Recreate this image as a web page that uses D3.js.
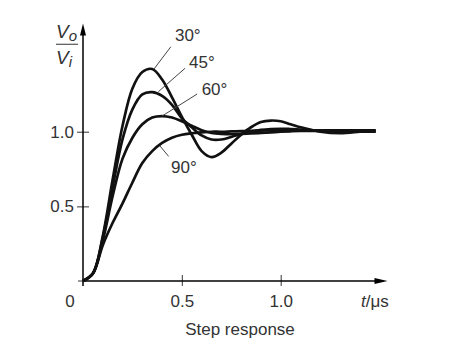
<!DOCTYPE html>
<html>
<head>
<meta charset="utf-8">
<script src="https://cdn.jsdelivr.net/npm/d3@7"></script>
<style>
  body { margin: 0; background: #fff; }
  text { font-family: "Liberation Sans", Arial, Helvetica, sans-serif; fill: #333; }
</style>
</head>
<body>
<div id="chart"></div>
<script>
// time axis (microseconds)
var times = [0, 0.05, 0.1, 0.15, 0.2, 0.25, 0.3, 0.35, 0.4, 0.45, 0.5, 0.55, 0.6, 0.65, 0.7, 0.75, 0.8, 0.85, 0.9, 0.95, 1.0, 1.05, 1.1, 1.2, 1.3, 1.4, 1.48];
// Vo/Vi, one list per phase margin
var v30 = [0, 0.05, 0.30, 0.68, 1.04, 1.29, 1.40, 1.42, 1.35, 1.23, 1.10, 0.98, 0.87, 0.83, 0.86, 0.92, 0.98, 1.03, 1.065, 1.075, 1.07, 1.05, 1.03, 1.0, 0.99, 1.0, 1.01];
var v45 = [0, 0.05, 0.29, 0.63, 0.95, 1.15, 1.25, 1.265, 1.24, 1.18, 1.09, 1.03, 0.975, 0.948, 0.948, 0.965, 0.985, 1.0, 1.012, 1.018, 1.02, 1.018, 1.015, 1.005, 1.0, 1.0, 1.0];
var v60 = [0, 0.05, 0.27, 0.57, 0.82, 0.96, 1.05, 1.095, 1.105, 1.095, 1.07, 1.04, 1.01, 0.992, 0.985, 0.983, 0.985, 0.988, 0.992, 0.996, 1.0, 1.003, 1.005, 1.005, 1.0, 1.0, 1.0];
var v90 = [0, 0.05, 0.24, 0.39, 0.52, 0.66, 0.79, 0.87, 0.925, 0.96, 0.98, 0.99, 0.996, 1.0, 1.0, 1.002, 1.004, 1.006, 1.008, 1.01, 1.01, 1.01, 1.01, 1.01, 1.01, 1.01, 1.01];
var seriesNames = ["30°", "45°", "60°", "90°"];
var seriesValues = [v30, v45, v60, v90];
// labels with leader lines, in data units: label anchor, leader start, leader end
var labelT = [0.465, 0.536, 0.60, 0.445];
var labelV = [1.607, 1.427, 1.246, 0.725];
var leadFromT = [0.444, 0.516, 0.577, 0.433];
var leadFromV = [1.569, 1.425, 1.2525, 0.835];
var leadToT = [0.359, 0.381, 0.40, 0.389];
var leadToV = [1.42, 1.268, 1.105, 0.905];
var xTicks = [0.5, 1.0];
var yTicks = [0.5, 1.0];

var width = 457, height = 361;
var svg = d3.select("#chart").append("svg")
  .attr("width", width)
  .attr("height", height);

var x = d3.scaleLinear().domain([0, 1.54]).range([83, 387.5]);
var y = d3.scaleLinear().domain([0, 1.725]).range([281, 23.5]);

var fmt = d3.format(".1f");

// y axis ticks + labels
var yAxis = svg.append("g")
  .attr("transform", "translate(" + x(0) + ",0)")
  .call(d3.axisLeft(y).tickValues(yTicks).tickFormat(fmt).tickSize(6).tickPadding(3));
yAxis.select(".domain").remove();
yAxis.selectAll(".tick line").attr("x1", -6).attr("x2", 6).attr("stroke", "#555").attr("stroke-width", 1.2);
yAxis.selectAll(".tick text").style("font-size", "17px").attr("fill", "#333")
  .style("font-family", "'Liberation Sans', Arial, sans-serif");

// x axis ticks + labels
var xAxis = svg.append("g")
  .attr("transform", "translate(0," + y(0) + ")")
  .call(d3.axisBottom(x).tickValues(xTicks).tickFormat(fmt).tickSize(5).tickPadding(8.6));
xAxis.select(".domain").remove();
xAxis.selectAll(".tick line").attr("y1", -6).attr("stroke", "#555").attr("stroke-width", 1.2);
xAxis.selectAll(".tick text").style("font-size", "17px").attr("fill", "#333")
  .style("font-family", "'Liberation Sans', Arial, sans-serif");

// small tick at the origin on the y axis
svg.append("line")
  .attr("x1", x(0) - 5).attr("x2", x(0))
  .attr("y1", y(0)).attr("y2", y(0))
  .attr("stroke", "#555").attr("stroke-width", 1.2);

// axis lines with arrow heads
svg.append("line")
  .attr("x1", x(0)).attr("x2", x(0))
  .attr("y1", y(0) + 5).attr("y2", y.range()[1] + 8)
  .attr("stroke", "#000").attr("stroke-width", 1.5);
svg.append("line")
  .attr("x1", x(0)).attr("x2", x.range()[1] - 8)
  .attr("y1", y(0)).attr("y2", y(0))
  .attr("stroke", "#000").attr("stroke-width", 1.5);

var ty = y.range()[1], tx = x.range()[1];
svg.append("path")
  .attr("d", "M" + x(0) + "," + ty + " L" + (x(0) - 3) + "," + (ty + 12) + " L" + (x(0) + 3) + "," + (ty + 12) + " Z")
  .attr("fill", "#000");
svg.append("path")
  .attr("d", "M" + tx + "," + y(0) + " L" + (tx - 13) + "," + (y(0) - 3) + " L" + (tx - 13) + "," + (y(0) + 3) + " Z")
  .attr("fill", "#000");

// origin label and axis titles
svg.append("text")
  .attr("x", 70).attr("y", 306.7)
  .attr("text-anchor", "middle")
  .style("font-size", "17px")
  .text("0");

var tl = svg.append("text")
  .attr("x", 375).attr("y", 306.7)
  .attr("text-anchor", "middle")
  .style("font-size", "17px");
tl.append("tspan").style("font-style", "italic").text("t");
tl.append("tspan").text("/μs");

svg.append("text")
  .attr("x", 240).attr("y", 335)
  .attr("text-anchor", "middle")
  .style("font-size", "17px")
  .text("Step response");

// Vo / Vi fraction
var vo = svg.append("text")
  .attr("x", 56).attr("y", 37.5)
  .style("font-size", "19px").style("font-style", "italic");
vo.append("tspan").text("V");
vo.append("tspan").attr("dy", 3).style("font-size", "15px").text("o");
svg.append("line")
  .attr("x1", 56).attr("x2", 78)
  .attr("y1", 44.3).attr("y2", 44.3)
  .attr("stroke", "#555").attr("stroke-width", 1.2);
var vi = svg.append("text")
  .attr("x", 56).attr("y", 63.5)
  .style("font-size", "19px").style("font-style", "italic");
vi.append("tspan").text("V");
vi.append("tspan").attr("dy", 3).style("font-size", "15px").text("i");

// response curves
var line = d3.line()
  .x(function (d) { return x(d.t); })
  .y(function (d) { return y(d.v); })
  .curve(d3.curveCatmullRom.alpha(0.5));

seriesValues.forEach(function (vals) {
  var pts = vals.map(function (v, i) { return { t: times[i], v: v }; });
  svg.append("path")
    .datum(pts)
    .attr("d", line)
    .attr("fill", "none")
    .attr("stroke", "#111")
    .attr("stroke-width", 2.7)
    .attr("stroke-linejoin", "round");
});

// leader lines and labels
seriesNames.forEach(function (name, i) {
  svg.append("line")
    .attr("x1", x(leadFromT[i])).attr("y1", y(leadFromV[i]))
    .attr("x2", x(leadToT[i])).attr("y2", y(leadToV[i]))
    .attr("stroke", "#444").attr("stroke-width", 1);
  svg.append("text")
    .attr("x", x(labelT[i])).attr("y", y(labelV[i]))
    .style("font-size", "17px")
    .text(name);
});
</script>
</body>
</html>
